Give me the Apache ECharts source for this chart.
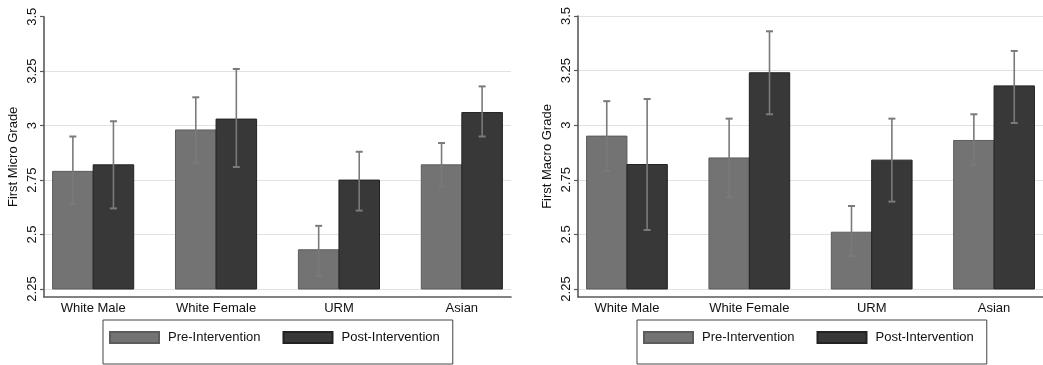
<!DOCTYPE html>
<html><head><meta charset="utf-8">
<script src="https://cdn.jsdelivr.net/npm/echarts@6/dist/echarts.min.js"></script>
<style>html,body{margin:0;padding:0;background:#fff}#c{width:1043px;height:365px}</style>
</head><body><div id="c"></div>
<script>
const CATEGORIES = ['White Male', 'White Female', 'URM', 'Asian'];
const SERIES_NAMES = ['Pre-Intervention', 'Post-Intervention'];
const Y_TICKS = [2.25, 2.5, 2.75, 3, 3.25, 3.5];
const BAR_BASE = 2.25;

const MICRO_PRE = [2.79, 2.98, 2.43, 2.82];
const MICRO_PRE_LO = [2.64, 2.83, 2.31, 2.72];
const MICRO_PRE_HI = [2.95, 3.13, 2.54, 2.92];
const MICRO_POST = [2.82, 3.03, 2.75, 3.06];
const MICRO_POST_LO = [2.62, 2.81, 2.61, 2.95];
const MICRO_POST_HI = [3.02, 3.26, 2.88, 3.18];

const MACRO_PRE = [2.95, 2.85, 2.51, 2.93];
const MACRO_PRE_LO = [2.79, 2.67, 2.40, 2.82];
const MACRO_PRE_HI = [3.11, 3.03, 2.63, 3.05];
const MACRO_POST = [2.82, 3.24, 2.84, 3.18];
const MACRO_POST_LO = [2.52, 3.05, 2.65, 3.01];
const MACRO_POST_HI = [3.12, 3.43, 3.03, 3.34];

const FONT = '"Liberation Sans", Arial, sans-serif';
const TEXT_COLOR = '#111111';
const PRE_COLOR = '#737373', PRE_BORDER = '#5c5c5c';
const POST_COLOR = '#383838', POST_BORDER = '#222222';
const ERR_COLOR = '#7a7a7a';

function rows(v, lo, hi) { return v.map((d, i) => [i, d, lo[i], hi[i]]); }

function makeRender(side, fill, stroke) {
  return function (params, api) {
    const x = api.value(0), v = api.value(1), lo = api.value(2), hi = api.value(3);
    const band = api.size([1, 0])[0];
    const bw = band * 0.33;
    const top = api.coord([x, v]);
    const base = api.coord([x, BAR_BASE]);
    const cx = top[0] + side * bw / 2;
    const pLo = api.coord([x, lo]), pHi = api.coord([x, hi]);
    const cap = 3.5;
    return {
      type: 'group',
      children: [
        { type: 'rect', shape: { x: cx - bw / 2, y: top[1], width: bw, height: base[1] - top[1] },
          style: { fill: fill, stroke: stroke, lineWidth: 1 } },
        { type: 'line', shape: { x1: cx, y1: pLo[1], x2: cx, y2: pHi[1] }, style: { stroke: ERR_COLOR, lineWidth: 1.6 } },
        { type: 'line', shape: { x1: cx - cap, y1: pHi[1], x2: cx + cap, y2: pHi[1] }, style: { stroke: ERR_COLOR, lineWidth: 2 } },
        { type: 'line', shape: { x1: cx - cap, y1: pLo[1], x2: cx + cap, y2: pLo[1] }, style: { stroke: ERR_COLOR, lineWidth: 2 } }
      ]
    };
  };
}

function xAxisFor(gi) {
  return {
    type: 'value', gridIndex: gi, min: -0.4, max: 3.4,
    axisLine: { show: true, onZero: false, lineStyle: { color: '#5a5a5a', width: 1.6 } },
    axisTick: { show: false },
    splitLine: { show: false },
    axisLabel: { customValues: [0, 1, 2, 3], formatter: v => CATEGORIES[Math.round(v)],
      fontFamily: FONT, fontSize: 13, color: TEXT_COLOR, margin: 5 }
  };
}
function yAxisFor(gi, name, gridColors) {
  return {
    type: 'value', gridIndex: gi, min: 2.2133, max: 3.5,
    name: name, nameLocation: 'middle', nameGap: 24,
    nameTextStyle: { fontFamily: FONT, fontSize: 13, color: TEXT_COLOR },
    axisLine: { show: true, onZero: false, lineStyle: { color: '#5a5a5a', width: 1.6 } },
    axisTick: { show: true, customValues: Y_TICKS, length: 4, lineStyle: { color: '#5a5a5a', width: 1.2 } },
    axisLabel: { customValues: Y_TICKS, rotate: 90, margin: 5, fontFamily: FONT, fontSize: 13, color: TEXT_COLOR,
      formatter: v => String(+v.toFixed(2)) },
    splitLine: { show: true, lineStyle: { color: gridColors, width: 1 } }
  };
}

const leftGrid = ['#e2e2e2', '#e2e2e2', '#e2e2e2', '#e2e2e2', '#e2e2e2', 'rgba(0,0,0,0)'];
const rightGrid = ['#e2e2e2', '#e2e2e2', '#e2e2e2', '#e2e2e2', '#e2e2e2', '#e2e2e2'];

function legendFor(left) {
  return {
    left: left, top: 320, orient: 'horizontal', selectedMode: false,
    data: SERIES_NAMES, icon: 'rect', itemWidth: 49, itemHeight: 11, itemGap: 22,
    padding: [11, 13, 20, 6], borderColor: '#444', borderWidth: 1,
    textStyle: { fontFamily: FONT, fontSize: 13, color: TEXT_COLOR, padding: [0, 0, 0, 4] }
  };
}

const chart = echarts.init(document.getElementById('c'), null, { renderer: 'canvas' });
chart.setOption({
  animation: false,
  backgroundColor: '#fff',
  grid: [
    { left: 44, right: 532, top: 16.7, bottom: 68 },
    { left: 578, right: -1, top: 16, bottom: 68 }
  ],
  xAxis: [xAxisFor(0), xAxisFor(1)],
  yAxis: [yAxisFor(0, 'First Micro Grade', leftGrid), yAxisFor(1, 'First Macro Grade', rightGrid)],
  legend: [legendFor(103), legendFor(637)],
  series: [
    { type: 'custom', name: SERIES_NAMES[0], xAxisIndex: 0, yAxisIndex: 0, data: rows(MICRO_PRE, MICRO_PRE_LO, MICRO_PRE_HI),
      renderItem: makeRender(-1, PRE_COLOR, PRE_BORDER), itemStyle: { color: PRE_COLOR, borderColor: PRE_BORDER, borderWidth: 1 } },
    { type: 'custom', name: SERIES_NAMES[1], xAxisIndex: 0, yAxisIndex: 0, data: rows(MICRO_POST, MICRO_POST_LO, MICRO_POST_HI),
      renderItem: makeRender(1, POST_COLOR, POST_BORDER), itemStyle: { color: POST_COLOR, borderColor: POST_BORDER, borderWidth: 1 } },
    { type: 'custom', name: SERIES_NAMES[0], xAxisIndex: 1, yAxisIndex: 1, data: rows(MACRO_PRE, MACRO_PRE_LO, MACRO_PRE_HI),
      renderItem: makeRender(-1, PRE_COLOR, PRE_BORDER), itemStyle: { color: PRE_COLOR, borderColor: PRE_BORDER, borderWidth: 1 } },
    { type: 'custom', name: SERIES_NAMES[1], xAxisIndex: 1, yAxisIndex: 1, data: rows(MACRO_POST, MACRO_POST_LO, MACRO_POST_HI),
      renderItem: makeRender(1, POST_COLOR, POST_BORDER), itemStyle: { color: POST_COLOR, borderColor: POST_BORDER, borderWidth: 1 } }
  ]
});
</script></body></html>
